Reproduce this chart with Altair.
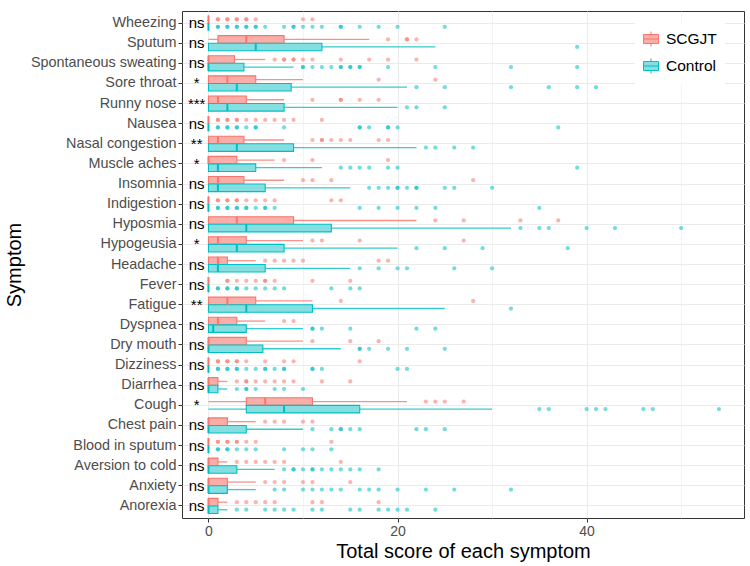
import altair as alt
import pandas as pd

# Symptoms, listed top to bottom
symptoms = ["Wheezing", "Sputum", "Spontaneous sweating", "Sore throat", "Runny nose",
            "Nausea", "Nasal congestion", "Muscle aches", "Insomnia", "Indigestion",
            "Hyposmia", "Hypogeusia", "Headache", "Fever", "Fatigue", "Dyspnea",
            "Dry mouth", "Dizziness", "Diarrhea", "Cough", "Chest pain",
            "Blood in sputum", "Aversion to cold", "Anxiety", "Anorexia"]
significance = ["ns", "ns", "ns", "*", "***", "ns", "**", "*", "ns", "ns",
                "ns", "*", "ns", "ns", "**", "ns", "ns", "ns", "ns", "*",
                "ns", "ns", "ns", "ns", "ns"]
groups = ["SCGJT", "Control"]

# Box statistics, SCGJT group
scgjt_lo = [0] * 25
scgjt_q1 = [0, 1, 0, 0, 0, 0, 0, 0, 0, 0, 0, 0, 0, 0, 0, 0, 0, 0, 0, 4, 0, 0, 0, 0, 0]
scgjt_med = [0, 4, 0, 2, 1, 0, 1, 0, 1, 0, 3, 1, 1, 0, 2, 1, 0, 0, 0, 6, 0, 0, 0, 0, 0]
scgjt_q3 = [0, 8, 2.75, 5, 4, 0, 3.75, 3, 3.75, 0, 9, 4, 2, 0, 5, 3, 4, 0, 1, 11, 2, 0, 1, 2, 1]
scgjt_hi = [0, 17, 6, 10, 8, 0, 8, 7, 8, 0, 22, 10, 5, 0, 11, 6, 10, 0, 2, 21, 5, 0, 2, 5, 2]

# Box statistics, Control group
control_lo = [0] * 25
control_q1 = [0, 0, 0, 0, 0, 0, 0, 0, 0, 0, 0, 0, 0, 0, 0, 0, 0, 0, 0, 4, 0, 0, 0, 0, 0]
control_med = [0, 5, 0, 3, 2, 0, 3, 1, 1, 0, 4, 3, 1, 0, 4, 0.5, 0, 0, 0, 8, 0, 0, 0, 0, 0]
control_q3 = [0, 12, 3.75, 8.75, 8, 0, 9, 5, 6, 0, 13, 8, 6, 0, 11, 4, 5.75, 0, 1, 16, 4, 0, 3, 2, 1]
control_hi = [0, 24, 9, 21, 20, 0, 22, 12, 15, 0, 32, 20, 15, 0, 25, 10, 14, 0, 2, 30, 10, 0, 7, 5, 2]

# Outlying scores (repeated values are tied patients)
scgjt_outliers = [
    [1, 1, 2, 2, 3, 3, 4, 4, 5, 10, 11],
    [19, 21, 21, 22],
    [7, 8, 8, 9, 9, 10, 11, 14, 17, 19, 22],
    [18, 24],
    [11, 14, 14, 16, 18],
    [1, 1, 2, 2, 3, 3, 4, 5, 6, 7, 8, 9, 12],
    [11, 12, 12, 13, 14, 15, 18, 19],
    [8, 11, 19],
    [10, 11, 13, 28],
    [1, 1, 2, 2, 3, 3, 4, 5, 6, 7, 13, 14],
    [24, 27, 33, 37],
    [11, 12, 16, 27],
    [6, 7, 8, 9, 10, 18, 19],
    [2, 2, 3, 4, 5, 6, 6, 7, 11, 15],
    [14, 28],
    [8, 9],
    [11, 15, 18],
    [1, 1, 2, 2, 3, 3, 4, 6, 8, 9, 16],
    [3, 4, 4, 5, 6, 7, 8, 9, 12, 15],
    [23, 24, 25, 27],
    [6, 7, 8, 10, 11],
    [1, 1, 2, 2, 3, 3, 4, 5, 13],
    [3, 4, 5, 6, 7, 8, 14],
    [6, 7, 8, 10, 11, 15],
    [3, 4, 5, 6, 7, 11, 12, 18],
]
control_outliers = [
    [1, 1, 2, 2, 3, 3, 4, 4, 5, 5, 6, 8, 9, 9, 10, 11, 12, 14, 14, 16, 18, 20, 25],
    [39],
    [10, 10, 11, 12, 13, 14, 14, 15, 15, 16, 16, 19, 24, 32, 39],
    [22, 25, 32, 36, 39, 41],
    [21, 22, 25],
    [1, 1, 2, 2, 3, 3, 4, 5, 5, 8, 16, 16, 17, 19, 19, 20, 37],
    [23, 24, 26, 28],
    [14, 15, 16, 17, 19, 20, 39],
    [17, 18, 19, 20, 20, 21, 22, 22, 25, 26, 30],
    [1, 1, 2, 2, 3, 3, 4, 4, 5, 6, 6, 7, 16, 18, 20, 22, 24, 35],
    [33, 35, 36, 40, 43, 50],
    [22, 25, 29, 38],
    [16, 18, 20, 21, 26, 30],
    [1, 1, 2, 2, 3, 3, 4, 5, 6, 7, 8, 13, 15, 16],
    [32],
    [11, 11, 12, 15, 22, 24],
    [16, 16, 17, 19, 21, 25],
    [1, 1, 2, 2, 3, 3, 4, 5, 6, 6, 7, 8, 8, 11, 11, 12, 20, 21],
    [3, 4, 4, 5, 7, 8, 10],
    [35, 36, 40, 41, 42, 46, 47, 54],
    [11, 13, 14, 14, 15, 16, 22, 23, 25],
    [1, 1, 2, 2, 3, 4, 5, 8, 10, 11, 13],
    [8, 9, 9, 10, 11, 11, 12, 13, 14, 15, 16, 18],
    [7, 8, 10, 11, 12, 13, 14, 16, 17, 18, 20, 23, 26, 32],
    [3, 4, 6, 7, 8, 9, 11, 12, 15, 16, 18, 19, 20, 21, 24],
]

line_colors = ["#F8766D", "#00BFC4"]
fill_colors = ["#FBADA7", "#85DEE0"]

# Tables built from the lists above
stat_rows = []
out_rows = []
for g, lo, q1, med, q3, hi, outs in [
    ("SCGJT", scgjt_lo, scgjt_q1, scgjt_med, scgjt_q3, scgjt_hi, scgjt_outliers),
    ("Control", control_lo, control_q1, control_med, control_q3, control_hi, control_outliers),
]:
    for i, s in enumerate(symptoms):
        stat_rows.append({"symptom": s, "group": g, "lo": lo[i], "q1": q1[i],
                          "med": med[i], "q3": q3[i], "hi": hi[i]})
        for v in outs[i]:
            out_rows.append({"symptom": s, "group": g, "value": v})
stats = pd.DataFrame(stat_rows)
outliers = pd.DataFrame(out_rows)
sig = pd.DataFrame({"symptom": symptoms, "label": significance})

x_scale = alt.Scale(domain=[-2.8, 56.65], nice=False, zero=False)
minor = "datum.value % 20 !== 0"
x_axis = alt.Axis(
    title="Total score of each symptom",
    values=[0, 10, 20, 30, 40, 50],
    labelExpr="datum.value % 20 === 0 ? datum.label : ''",
    labelFontSize=14, labelColor="#4D4D4D", labelPadding=2,
    titleFontSize=20, titleFontWeight="normal", titleColor="black", titlePadding=3,
    tickSize=4,
    tickColor={"condition": {"test": minor, "value": "transparent"}, "value": "#333333"},
    grid=True,
    gridColor="#EBEBEB",
    gridWidth={"condition": {"test": minor, "value": 0.6}, "value": 1.1},
    domain=False,
)
y_enc = alt.Y(
    "symptom:N", sort=symptoms,
    scale=alt.Scale(domain=symptoms, paddingInner=0, paddingOuter=0.1),
    axis=alt.Axis(title="Symptom", labelFontSize=14.4, labelColor="#4D4D4D", labelPadding=2,
                  titleFontSize=20, titleFontWeight="normal", titleColor="black",
                  titlePadding=6, tickSize=4, tickColor="#333333", grid=True,
                  gridColor="#EBEBEB", gridWidth=1.1, bandPosition=0.5, domain=False),
)
yoff_enc = alt.YOffset("group:N", sort=groups,
                       scale=alt.Scale(domain=groups, paddingInner=0, paddingOuter=0.33))
# Line/point colours: domain listed Control-first so this legend-less scale is kept
# apart from the fill/stroke legend
color_enc = alt.Color("group:N",
                      scale=alt.Scale(domain=groups[::-1], range=line_colors[::-1]),
                      legend=None)

# Box-and-whisker key glyph drawn as a path in unit coordinates
key_glyph = "M-1,-0.6L1,-0.6L1,0.6L-1,0.6Z M-1,0L1,0 M0,-0.6L0,-1 M0,0.6L0,1"
legend = alt.Legend(
    title=None, orient="none", legendX=453, legendY=12,
    symbolType=key_glyph,
    symbolSize=225, symbolStrokeWidth=1, labelFontSize=15.5, labelColor="black",
    labelOffset=7, rowPadding=7,
)

base = alt.Chart(stats)

whisker_hi = base.mark_rule(strokeWidth=1.3, opacity=0.8).encode(
    x=alt.X("q3:Q", scale=x_scale, axis=x_axis), x2="hi:Q",
    y=y_enc, yOffset=yoff_enc, color=color_enc)
whisker_lo = base.mark_rule(strokeWidth=1.3, opacity=0.8).encode(
    x=alt.X("lo:Q", scale=x_scale), x2="q1:Q",
    y=y_enc, yOffset=yoff_enc, color=color_enc)
boxes = base.mark_bar(strokeWidth=1.1).encode(
    x=alt.X("q1:Q", scale=x_scale), x2="q3:Q",
    y=y_enc, yOffset=yoff_enc,
    fill=alt.Fill("group:N", sort=groups,
                  scale=alt.Scale(domain=groups, range=fill_colors), legend=legend),
    stroke=alt.Stroke("group:N", sort=groups,
                      scale=alt.Scale(domain=groups, range=line_colors), legend=legend),
)
medians = base.mark_tick(thickness=2, size=7.6, opacity=1).encode(
    x=alt.X("med:Q", scale=x_scale), y=y_enc, yOffset=yoff_enc, color=color_enc)
points = alt.Chart(outliers).mark_circle(size=18, opacity=0.55).encode(
    x=alt.X("value:Q", scale=x_scale), y=y_enc, yOffset=yoff_enc, color=color_enc)
labels = alt.Chart(sig).mark_text(fontSize=15, align="center", baseline="middle",
                                  color="black").encode(
    x=alt.datum(-1.25, scale=x_scale), y=y_enc, text="label:N")

chart = alt.layer(whisker_hi, whisker_lo, boxes, medians, points, labels).properties(
    width=562, height=507,
    autosize=alt.AutoSizeParams(type="none"),
    padding={"left": 182, "top": 11, "right": 6, "bottom": 48},
).configure(
    font="Liberation Sans",
).configure_legend(
    fillColor="white", padding=8,
).configure_view(
    stroke="#333333", strokeWidth=1,
)

chart.save("out.html", embed_options={"renderer": "svg", "actions": False})
